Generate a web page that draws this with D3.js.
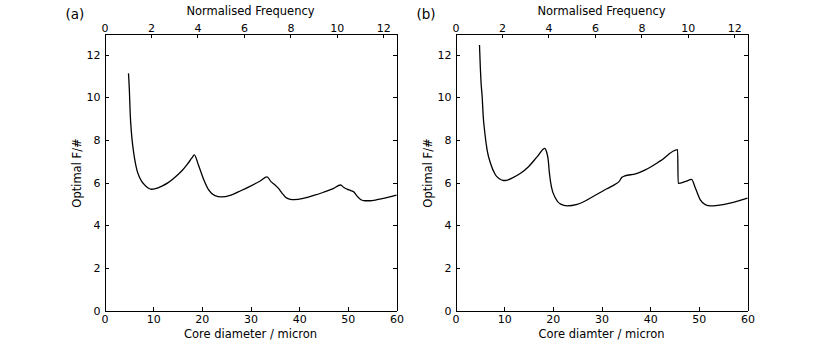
<!DOCTYPE html>
<head>
  <meta charset="utf-8">
  <style>
    body { margin: 0; background: #fff; }
    text { font-family: 'DejaVu Sans', sans-serif; fill: black; }
    .axis text { font-size: 11px; }
    .axis path, .axis line { stroke: black; shape-rendering: crispEdges; }
  </style>
</head>
<body>
  <script src="https://cdn.jsdelivr.net/npm/d3@7"></script>
  <script>
    // chart data
    const diamA = [4.93, 5.1, 5.28, 5.55, 5.83, 6.2, 6.65, 7.1, 7.68, 8.3, 9.05, 9.6, 10, 11, 12, 13, 14, 15, 16, 17, 18, 18.45,
                   19.3, 20.3, 21.4, 22.7, 24.0, 26, 28, 30, 32, 33.4, 34.2, 35.0, 35.8, 36.5, 37.2, 38.0, 39, 41, 43, 45, 47, 48.5,
                   49.2, 49.8, 50.6, 51.2, 51.7, 52.1, 52.7, 53.5, 54.5, 56, 58, 60];
    const fnumA = [11.13, 10.4, 9.25, 8.3, 7.69, 7.1, 6.6, 6.3, 6.05, 5.88, 5.74, 5.69, 5.70, 5.76, 5.86, 5.99, 6.16, 6.36, 6.58, 6.86, 7.17, 7.3,
                   6.83, 6.2, 5.66, 5.39, 5.33, 5.42, 5.62, 5.84, 6.08, 6.27, 6.05, 5.9, 5.72, 5.5, 5.32, 5.23, 5.2, 5.27, 5.4, 5.55, 5.72, 5.89,
                   5.77, 5.7, 5.63, 5.57, 5.43, 5.32, 5.2, 5.15, 5.15, 5.2, 5.3, 5.42];

    const diamB = [4.93, 5.1, 5.25, 5.48, 5.7, 5.96, 6.5, 7.19, 8.22, 9.0, 9.9, 10.5, 11.5, 13.36, 15, 16.8, 18.35, 18.7, 19.05, 19.3, 19.7,
                   20.55, 21.6, 22.95, 25, 28.8, 31, 33.0, 33.6, 34.2, 34.8, 37, 39, 42.1, 45.65, 45.75, 47.3, 48.5, 49.3, 50.3, 51.4,
                   52.4, 55, 60];
    const fnumB = [12.46, 11.4, 10.7, 10.03, 9.1, 8.47, 7.53, 6.91, 6.36, 6.18, 6.1, 6.11, 6.2, 6.44, 6.75, 7.22, 7.61, 7.45, 7.07, 6.44, 5.81,
                   5.27, 4.99, 4.91, 4.98, 5.42, 5.7, 5.95, 6.05, 6.25, 6.32, 6.41, 6.6, 7.02, 7.55, 5.97, 6.06, 6.15, 5.74, 5.19, 4.96,
                   4.91, 4.97, 5.27];

    const yTicks = [0, 2, 4, 6, 8, 10, 12];
    const xTicks = [0, 10, 20, 30, 40, 50, 60];
    const freqTicks = [0, 2, 4, 6, 8, 10, 12];

    const panels = [
      {tag: "(a)", xlabel: "Core diameter / micron", xs: diamA, ys: fnumA, left: 104},
      {tag: "(b)", xlabel: "Core diamter / micron", xs: diamB, ys: fnumB, left: 455}
    ];

    const width = 830, height = 346;
    const plotTop = 33, plotW = 292, plotH = 277;

    const svg = d3.select("body").append("svg")
      .attr("width", width)
      .attr("height", height);

    const x = d3.scaleLinear().domain([0, 60]).range([0, plotW]);
    const xTop = d3.scaleLinear().domain([0, 4 * Math.PI]).range([0, plotW]);
    const y = d3.scaleLinear().domain([0, 13]).range([plotH, 0]);

    panels.forEach(p => {
      const g = svg.append("g")
        .attr("transform", "translate(" + (p.left + 0.5) + "," + (plotTop + 0.5) + ")");

      // line first so the frame sits over it
      const line = d3.line()
        .x((d, i) => x(p.xs[i]))
        .y(d => y(d))
        .curve(d3.curveMonotoneX);

      g.append("path")
        .datum(p.ys)
        .attr("fill", "none")
        .attr("stroke", "black")
        .attr("stroke-width", 1.3)
        .attr("d", line);

      g.append("g").attr("class", "axis")
        .attr("transform", "translate(0," + plotH + ")")
        .call(d3.axisBottom(x).tickValues(xTicks).tickSizeInner(-4).tickSizeOuter(0).tickPadding(5));

      g.append("g").attr("class", "axis")
        .call(d3.axisTop(xTop).tickValues(freqTicks).tickSizeInner(-4).tickSizeOuter(0).tickPadding(2));

      g.append("g").attr("class", "axis")
        .call(d3.axisLeft(y).tickValues(yTicks).tickSizeInner(-4).tickSizeOuter(0).tickPadding(4));

      g.append("g").attr("class", "axis")
        .attr("transform", "translate(" + plotW + ",0)")
        .call(d3.axisRight(y).tickValues(yTicks).tickSizeInner(-4).tickSizeOuter(0).tickFormat(""));

      // labels
      g.append("text")
        .attr("x", plotW / 2).attr("y", -19)
        .attr("text-anchor", "middle")
        .style("font-size", "11.5px")
        .text("Normalised Frequency");

      g.append("text")
        .attr("x", plotW / 2).attr("y", plotH + 27)
        .attr("text-anchor", "middle")
        .style("font-size", "11.5px")
        .text(p.xlabel);

      g.append("text")
        .attr("transform", "translate(-24," + (plotH / 2 + 1) + ") rotate(-90)")
        .attr("text-anchor", "middle")
        .style("font-size", "11.5px")
        .text("Optimal F/#");

      g.append("text")
        .attr("x", -39).attr("y", -15)
        .style("font-size", "13.5px")
        .text(p.tag);
    });
  </script>
</body>
